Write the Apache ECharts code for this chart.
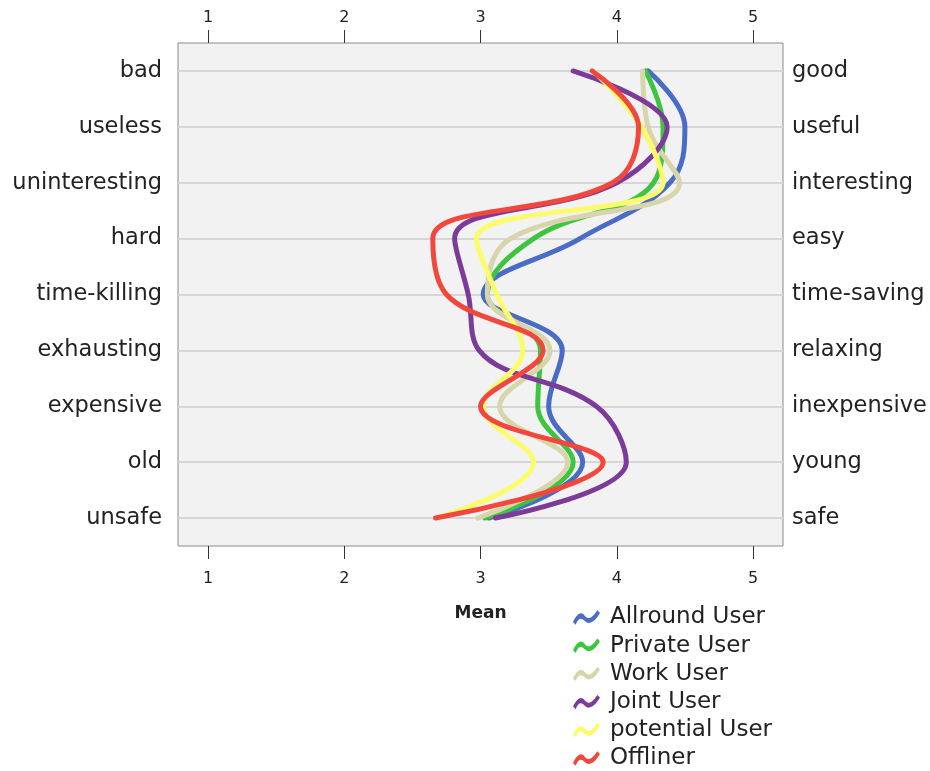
<!DOCTYPE html>
<html>
<head>
<meta charset="utf-8">
<script src="https://cdn.jsdelivr.net/npm/echarts@6/dist/echarts.min.js"></script>
<style>
  html, body { margin: 0; padding: 0; background: #fff; }
  #chart { width: 930px; height: 771px; }
</style>
</head>
<body>
<div id="chart"></div>
<script>
// left / right poles of each scale
const leftLabels = ["bad", "useless", "uninteresting", "hard", "time-killing", "exhausting", "expensive", "old", "unsafe"];
const rightLabels = ["good", "useful", "interesting", "easy", "time-saving", "relaxing", "inexpensive", "young", "safe"];
const meanTicks = [1, 2, 3, 4, 5];

const allround = [4.23, 4.50, 4.39, 3.73, 3.02, 3.60, 3.50, 3.75, 3.06];
const privateUser = [4.21, 4.34, 4.27, 3.39, 3.05, 3.44, 3.42, 3.68, 3.03];
const workUser = [4.19, 4.23, 4.46, 3.22, 3.05, 3.51, 3.14, 3.64, 2.98];
const jointUser = [3.68, 4.37, 4.00, 2.81, 2.91, 2.99, 3.85, 4.07, 3.11];
const potentialUser = [3.83, 4.18, 4.34, 2.97, 3.12, 3.31, 3.02, 3.39, 2.68];
const offliner = [3.82, 4.16, 3.97, 2.65, 2.75, 3.46, 3.00, 3.90, 2.67];

const seriesNames = ["Allround User", "Private User", "Work User", "Joint User", "potential User", "Offliner"];
const seriesData = [allround, privateUser, workUser, jointUser, potentialUser, offliner];
const colors = ["#4a6cc4", "#3ec43e", "#d8d4ab", "#7c3b98", "#fbfb6c", "#f2473d"];

const squiggle = "path://M0,16 C5,6 9,4 13,9 C17,14 21,12 27,3 L30,6 C24,16 18,20 13,15 C9,11 6,11 3,19 Z";

const chart = echarts.init(document.getElementById("chart"));

const xBase = {
  type: "value",
  min: 0.78,
  max: 5.22,
  axisLine: { show: false },
  splitLine: { show: false },
  axisTick: {
    show: true,
    customValues: meanTicks,
    length: 13,
    lineStyle: { color: "#333", width: 1 }
  },
  axisLabel: {
    customValues: meanTicks,
    color: "#222",
    fontSize: 16,
    fontFamily: "DejaVu Sans"
  }
};

const option = {
  backgroundColor: "#fff",
  color: colors,
  animation: false,
  grid: {
    left: 178,
    right: 147,
    top: 43,
    bottom: 225,
    show: true,
    backgroundColor: "#f2f2f2",
    borderColor: "#8a8a8a",
    borderWidth: 1
  },
  legend: {
    orient: "vertical",
    left: 573,
    top: 606,
    height: 170,
    padding: 0,
    itemWidth: 27,
    itemHeight: 18,
    itemGap: 5.2,
    icon: squiggle,
    textStyle: { fontSize: 23, color: "#222", fontFamily: "DejaVu Sans", padding: [0, 0, 0, 5] },
    data: seriesNames
  },
  xAxis: [
    Object.assign({}, xBase, {
      position: "bottom",
      axisLabel: Object.assign({}, xBase.axisLabel, { margin: 25 }),
      name: "Mean",
      nameLocation: "middle",
      nameGap: 59,
      nameTextStyle: { fontSize: 17, fontWeight: "bold", color: "#222", fontFamily: "DejaVu Sans" }
    }),
    Object.assign({}, xBase, {
      position: "top",
      axisLabel: Object.assign({}, xBase.axisLabel, { margin: 17 })
    })
  ],
  yAxis: [
    {
      type: "category",
      inverse: true,
      position: "left",
      data: leftLabels,
      axisLine: { show: false },
      axisTick: { show: false },
      axisLabel: { color: "#222", fontSize: 22.5, fontFamily: "DejaVu Sans", margin: 16 },
      splitLine: { show: true, alignWithLabel: true, lineStyle: { color: "#d6d6d6", width: 2 } }
    },
    {
      type: "category",
      inverse: true,
      position: "right",
      data: rightLabels,
      axisLine: { show: false },
      axisTick: { show: false },
      axisLabel: { color: "#222", fontSize: 22.5, fontFamily: "DejaVu Sans", margin: 9 },
      splitLine: { show: false }
    }
  ],
  series: seriesNames.map((name, i) => ({
    name: name,
    type: "line",
    xAxisIndex: 0,
    yAxisIndex: 0,
    smooth: 0.4,
    symbol: "none",
    lineStyle: { width: 5, color: colors[i], cap: "round" },
    data: seriesData[i]
  }))
};

chart.setOption(option);
</script>
</body>
</html>
